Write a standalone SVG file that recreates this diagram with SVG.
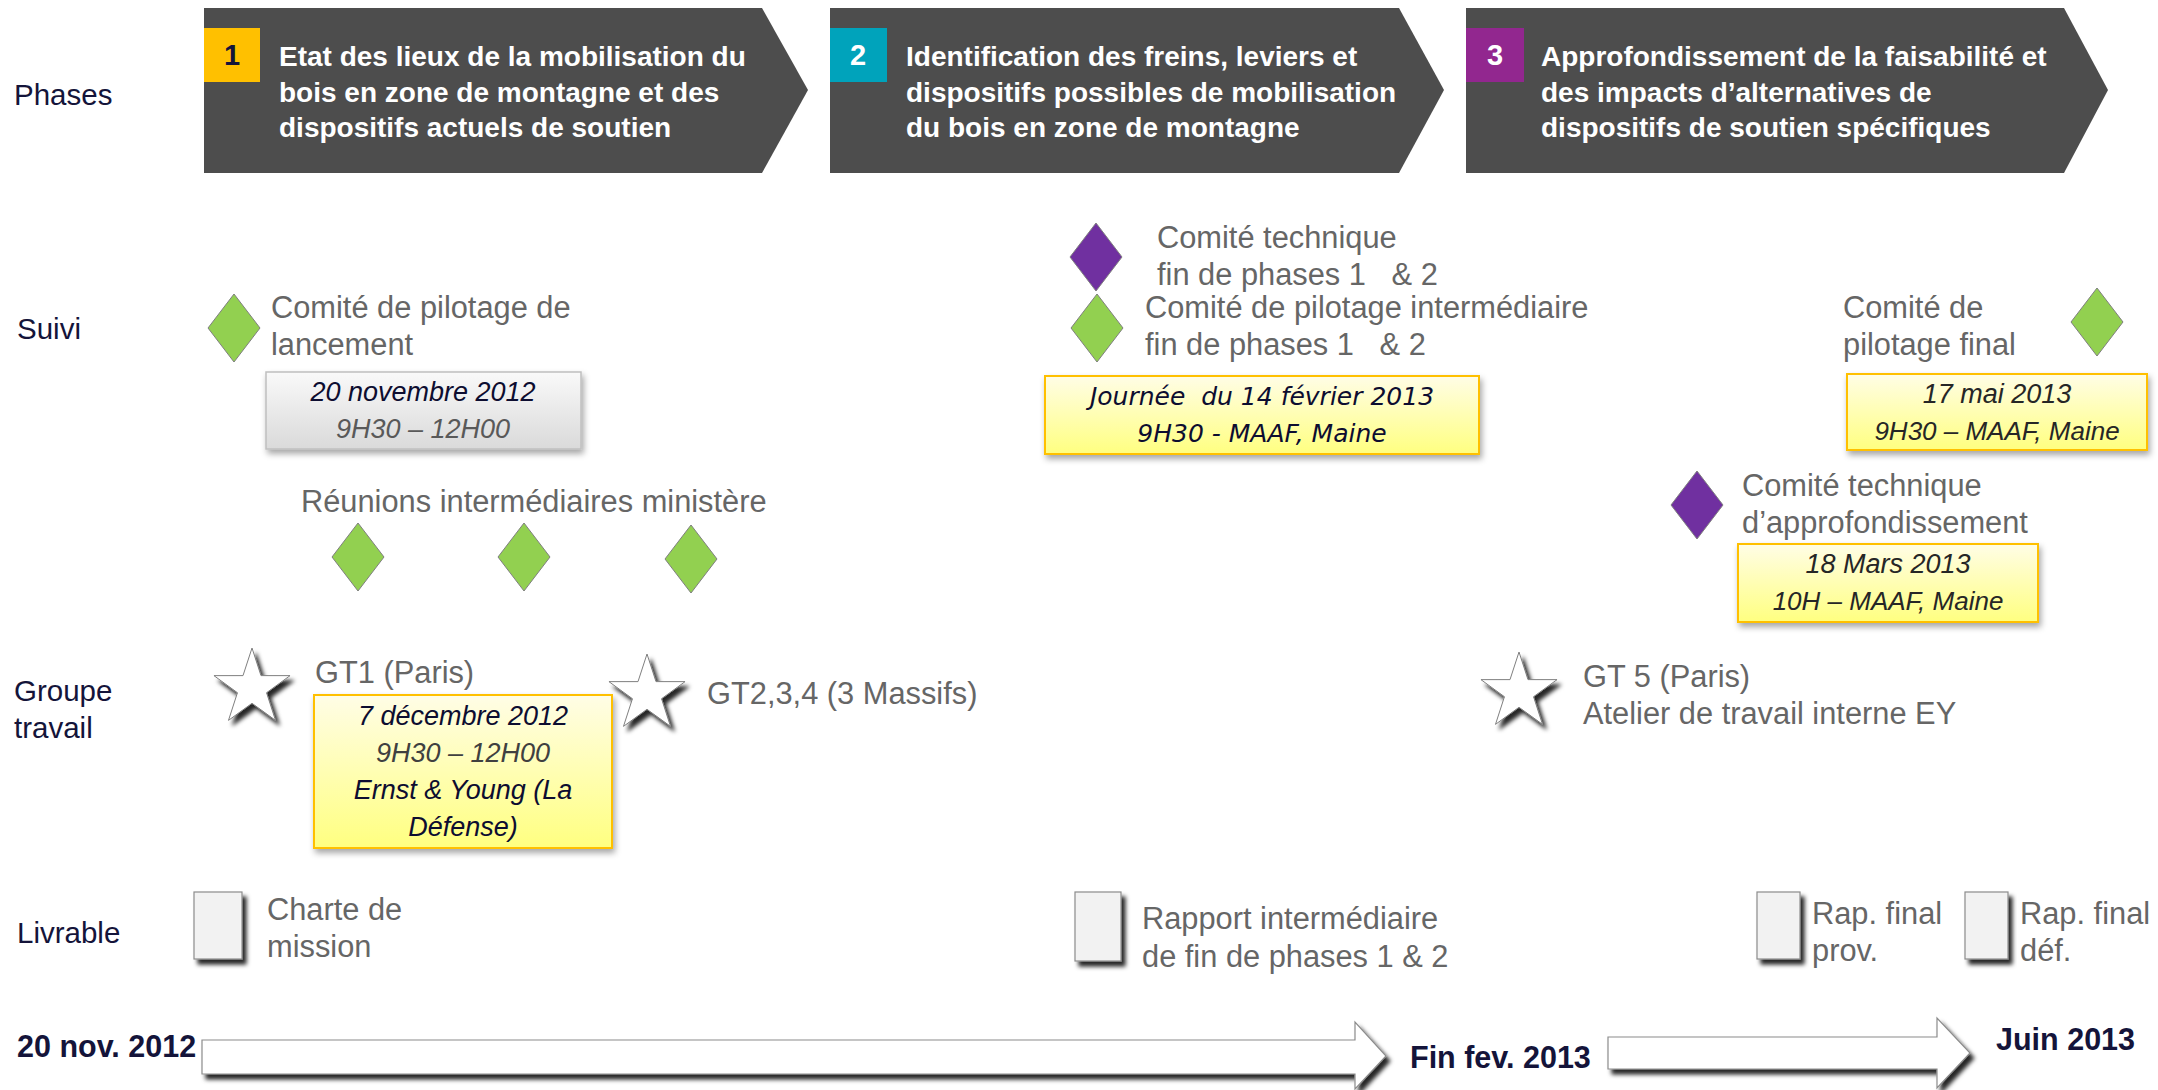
<svg xmlns="http://www.w3.org/2000/svg" width="2158" height="1090" viewBox="0 0 2158 1090">
<style>
.lbl{font-family:"Liberation Sans",Arial,sans-serif;font-size:29.5px;fill:#14143a}
.tl{font-family:"Liberation Sans",Arial,sans-serif;font-size:30.5px;font-weight:bold;fill:#14143a}
.ph{font-family:"Liberation Sans",Arial,sans-serif;font-size:28px;font-weight:bold;fill:#ffffff}
.num{font-family:"Liberation Sans",Arial,sans-serif;font-size:29px;font-weight:bold;text-anchor:middle}
.g{font-family:"Liberation Sans",Arial,sans-serif;font-size:30.8px;fill:#666666}
.it{font-family:"Liberation Sans",Arial,sans-serif;font-style:italic;font-size:27px;text-anchor:middle}
.itv{font-family:"DejaVu Sans",Verdana,sans-serif;font-style:italic;font-size:25px;text-anchor:middle;fill:#0d0d30}
.banner{fill:#4d4d4d}
.dg{fill:#92d050;stroke:#7f7f7f;stroke-width:1}
.dp{fill:#7030a0;stroke:#7f7f7f;stroke-width:1}
.ybox{fill:url(#yg);stroke:#ffc000;stroke-width:2;filter:url(#soft)}
.gbox{fill:url(#gg);stroke:#bfbfbf;stroke-width:1.5;filter:url(#soft)}
.star{fill:#ffffff;stroke:#7f7f7f;stroke-width:1;filter:url(#hard)}
.doc{fill:#f2f2f2;stroke:#8c8c8c;stroke-width:1.2;filter:url(#hard)}
.arr{fill:#ffffff;stroke:#8c8c8c;stroke-width:1.2;filter:url(#hard)}
</style>
<defs>
<linearGradient id="yg" x1="0" y1="0" x2="0" y2="1">
<stop offset="0" stop-color="#fffde6"/>
<stop offset="1" stop-color="#ffff80"/>
</linearGradient>
<linearGradient id="gg" x1="0" y1="0" x2="0" y2="1">
<stop offset="0" stop-color="#f9f9f9"/>
<stop offset="1" stop-color="#dadada"/>
</linearGradient>
<filter id="soft" x="-10%" y="-10%" width="125%" height="130%">
<feDropShadow dx="2" dy="4" stdDeviation="3" flood-color="#000000" flood-opacity="0.35"/>
</filter>
<filter id="hard" x="-15%" y="-15%" width="135%" height="140%">
<feDropShadow dx="4" dy="5" stdDeviation="2.2" flood-color="#000000" flood-opacity="0.85"/>
</filter>
<path id="diamond" d="M0,-34 L26,0 L0,34 L-26,0 Z"/>
<path id="star5" d="M0,-40 L8.99,-12.38 L38.04,-12.36 L14.55,4.73 L23.51,32.36 L0,15.3 L-23.51,32.36 L-14.55,4.73 L-38.04,-12.36 L-8.99,-12.38 Z"/>
</defs>
<rect width="2158" height="1090" fill="#ffffff"/>

<g id="row-labels">
<text class="lbl" x="14" y="105">Phases</text>
<text class="lbl" x="17" y="339">Suivi</text>
<text class="lbl" x="14" y="701">Groupe</text>
<text class="lbl" x="14" y="738">travail</text>
<text class="lbl" x="17" y="943">Livrable</text>
</g>

<g id="phase1">
<polygon class="banner" points="204,8 762,8 808,90 762,173 204,173"/>
<rect x="204" y="28" width="56" height="54" fill="#ffc000"/>
<text class="num" x="232" y="65" fill="#14143a">1</text>
<text class="ph" x="279" y="66">Etat des lieux de la mobilisation du</text>
<text class="ph" x="279" y="102">bois en zone de montagne et des</text>
<text class="ph" x="279" y="137">dispositifs actuels de soutien</text>
</g>
<g id="phase2">
<polygon class="banner" points="830,8 1399,8 1444,90 1399,173 830,173"/>
<rect x="830" y="28" width="57" height="54" fill="#00a3bb"/>
<text class="num" x="858" y="65" fill="#ffffff">2</text>
<text class="ph" x="906" y="66">Identification des freins, leviers et</text>
<text class="ph" x="906" y="102">dispositifs possibles de mobilisation</text>
<text class="ph" x="906" y="137">du bois en zone de montagne</text>
</g>
<g id="phase3">
<polygon class="banner" points="1466,8 2064,8 2108,90 2064,173 1466,173"/>
<rect x="1466" y="28" width="58" height="54" fill="#92278f"/>
<text class="num" x="1495" y="65" fill="#ffffff">3</text>
<text class="ph" x="1541" y="66">Approfondissement de la faisabilité et</text>
<text class="ph" x="1541" y="102">des impacts d’alternatives de</text>
<text class="ph" x="1541" y="137">dispositifs de soutien spécifiques</text>
</g>

<g id="copil-lancement">
<use href="#diamond" class="dg" transform="translate(234,328)"/>
<text class="g" x="271" y="318">Comité de pilotage de</text>
<text class="g" x="271" y="355">lancement</text>
<rect class="gbox" x="266" y="372" width="315" height="77"/>
<text class="it" x="423" y="401" fill="#0d0d30">20 novembre 2012</text>
<text class="it" x="423" y="438" fill="#595959">9H30 – 12H00</text>
</g>

<g id="reunions-ministere">
<text class="g" x="301" y="512">Réunions intermédiaires ministère</text>
<use href="#diamond" class="dg" transform="translate(358,557)"/>
<use href="#diamond" class="dg" transform="translate(524,557)"/>
<use href="#diamond" class="dg" transform="translate(691,559)"/>
</g>

<g id="cotech-phases12">
<use href="#diamond" class="dp" transform="translate(1096,257)"/>
<text class="g" x="1157" y="248">Comité technique</text>
<text class="g" x="1157" y="285" xml:space="preserve">fin de phases 1   &amp; 2</text>
</g>
<g id="copil-intermediaire">
<use href="#diamond" class="dg" transform="translate(1097,328)"/>
<text class="g" x="1145" y="318">Comité de pilotage intermédiaire</text>
<text class="g" x="1145" y="355" xml:space="preserve">fin de phases 1   &amp; 2</text>
<rect class="ybox" x="1045" y="376" width="434" height="78"/>
<text class="itv" x="1262" y="405" xml:space="preserve">Journée  du 14 février 2013</text>
<text class="itv" x="1262" y="442">9H30 - MAAF, Maine</text>
</g>

<g id="copil-final">
<text class="g" x="1843" y="318">Comité de</text>
<text class="g" x="1843" y="355">pilotage final</text>
<use href="#diamond" class="dg" transform="translate(2097,322)"/>
<rect class="ybox" x="1847" y="374" width="300" height="76"/>
<text class="it" x="1997" y="403" fill="#262626">17 mai 2013</text>
<text class="it" x="1997" y="440" fill="#262626" style="font-size:26px">9H30 – MAAF, Maine</text>
</g>

<g id="cotech-approfondissement">
<use href="#diamond" class="dp" transform="translate(1697,505)"/>
<text class="g" x="1742" y="496">Comité technique</text>
<text class="g" x="1742" y="533">d’approfondissement</text>
<rect class="ybox" x="1738" y="544" width="300" height="78"/>
<text class="it" x="1888" y="573" fill="#262626">18 Mars 2013</text>
<text class="it" x="1888" y="610" fill="#262626" style="font-size:26px">10H – MAAF, Maine</text>
</g>

<g id="gt1">
<use href="#star5" class="star" transform="translate(252,688)"/>
<text class="g" x="315" y="683">GT1 (Paris)</text>
<rect class="ybox" x="314" y="695" width="298" height="153"/>
<text class="it" x="463" y="725" fill="#0d0d30">7 décembre 2012</text>
<text class="it" x="463" y="762" fill="#404040">9H30 – 12H00</text>
<text class="it" x="463" y="799" fill="#0d0d30">Ernst &amp; Young (La</text>
<text class="it" x="463" y="836" fill="#0d0d30">Défense)</text>
</g>
<g id="gt234">
<use href="#star5" class="star" transform="translate(647,694)"/>
<text class="g" x="707" y="704">GT2,3,4 (3 Massifs)</text>
</g>
<g id="gt5">
<use href="#star5" class="star" transform="translate(1519,692)"/>
<text class="g" x="1583" y="687">GT 5 (Paris)</text>
<text class="g" x="1583" y="724">Atelier de travail interne EY</text>
</g>

<g id="livrable-charte">
<rect class="doc" x="194" y="892" width="48" height="67"/>
<text class="g" x="267" y="920">Charte de</text>
<text class="g" x="267" y="957">mission</text>
</g>
<g id="livrable-rapport-intermediaire">
<rect class="doc" x="1075" y="892" width="46" height="69"/>
<text class="g" x="1142" y="929">Rapport intermédiaire</text>
<text class="g" x="1142" y="967">de fin de phases 1 &amp; 2</text>
</g>
<g id="livrable-final-prov">
<rect class="doc" x="1757" y="892" width="43" height="67"/>
<text class="g" x="1812" y="924">Rap. final</text>
<text class="g" x="1812" y="961">prov.</text>
</g>
<g id="livrable-final-def">
<rect class="doc" x="1965" y="892" width="43" height="67"/>
<text class="g" x="2020" y="924">Rap. final</text>
<text class="g" x="2020" y="961">déf.</text>
</g>

<g id="timeline-labels">
<text class="tl" x="17" y="1057">20 nov. 2012</text>
<text class="tl" x="1410" y="1068">Fin fev. 2013</text>
<text class="tl" x="1996" y="1050">Juin 2013</text>
</g>

<g id="connectors">
<path class="arr" d="M202,1040 L1355,1040 L1355,1022 L1386,1056 L1355,1089 L1355,1074 L202,1074 Z"/>
<path class="arr" d="M1608,1037 L1937,1037 L1937,1018 L1970,1053 L1937,1088 L1937,1069 L1608,1069 Z"/>
</g>
</svg>
